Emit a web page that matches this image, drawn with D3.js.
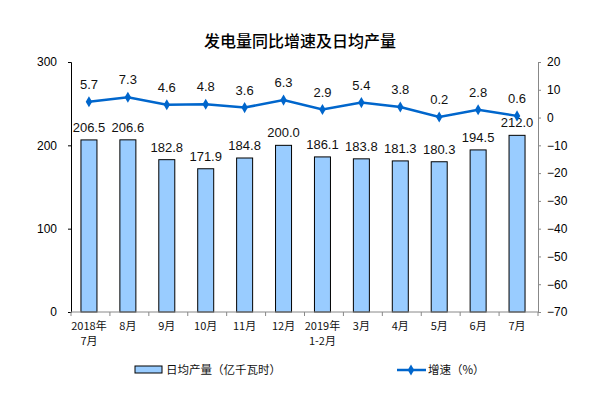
<!DOCTYPE html>
<html lang="zh">
<head>
<meta charset="UTF-8">
<title>发电量同比增速及日均产量</title>
<script src="https://d3js.org/d3.v7.min.js"></script>
<style>
  body { margin: 0; background: #fff; }
  svg text { font-family: "Liberation Sans", Arial, "Noto Sans CJK SC", sans-serif; }
  .cn { font-family: "Noto Sans CJK SC", sans-serif; }
</style>
</head>
<body>
<div id="chart"></div>
<script>
  // Data
  const months = [["2018年", "7月"], ["8月"], ["9月"], ["10月"], ["11月"], ["12月"],
                  ["2019年", "1-2月"], ["3月"], ["4月"], ["5月"], ["6月"], ["7月"]];
  const dailyOutput = [206.5, 206.6, 182.8, 171.9, 184.8, 200.0, 186.1, 183.8, 181.3, 180.3, 194.5, 212.0];
  const growth = [5.7, 7.3, 4.6, 4.8, 3.6, 6.3, 2.9, 5.4, 3.8, 0.2, 2.8, 0.6];
  const leftTicks = [0, 100, 200, 300];
  const rightTicks = [20, 10, 0, -10, -20, -30, -40, -50, -60, -70];

  const width = 590, height = 396;
  const margin = { top: 62, right: 52, bottom: 84, left: 71 };

  const svg = d3.select("#chart").append("svg")
    .attr("width", width).attr("height", height);

  const keys = months.map((d, i) => i);
  const x = d3.scaleBand().domain(keys)
    .range([margin.left, width - margin.right]);
  const yL = d3.scaleLinear().domain([0, 300]).range([height - margin.bottom, margin.top]);
  const yR = d3.scaleLinear().domain([-70, 20]).range([height - margin.bottom, margin.top]);
  const cx = i => x(i) + x.bandwidth() / 2 - 1.5;

  // Title
  svg.append("text").attr("class", "cn")
    .attr("x", 300).attr("y", 47)
    .attr("text-anchor", "middle")
    .style("font-size", "16px").style("font-weight", "500")
    .text("发电量同比增速及日均产量");

  // Bars
  const barW = 16;
  svg.selectAll(".bar").data(dailyOutput).enter().append("rect")
    .attr("x", (d, i) => cx(i) - barW / 2)
    .attr("y", d => yL(d))
    .attr("width", barW)
    .attr("height", d => yL(0) - yL(d))
    .attr("fill", "#99CCFF").attr("stroke", "#000").attr("stroke-width", 1);

  svg.selectAll(".blabel").data(dailyOutput).enter().append("text")
    .attr("x", (d, i) => cx(i))
    .attr("y", d => yL(d) - 8)
    .attr("text-anchor", "middle")
    .style("font-size", "13px").style("fill", "#111")
    .text(d => d.toFixed(1));

  // Left axis
  const gL = svg.append("g")
    .attr("transform", `translate(${margin.left},0)`)
    .call(d3.axisLeft(yL).tickValues(leftTicks).tickSize(3).tickPadding(11));
  gL.select(".domain").attr("stroke", "#000");
  gL.selectAll("text").style("font-size", "12px").style("font-family", "Liberation Sans, Arial");

  // Right axis
  const gR = svg.append("g")
    .attr("transform", `translate(${width - margin.right},0)`)
    .call(d3.axisRight(yR).tickValues(rightTicks).tickSize(3).tickPadding(6));
  gR.select(".domain").attr("stroke", "#888");
  gR.selectAll("line").attr("stroke", "#888");
  gR.selectAll("text").style("font-size", "12px").style("font-family", "Liberation Sans, Arial");

  // Bottom axis
  const base = yL(0);
  svg.append("line")
    .attr("x1", margin.left).attr("x2", width - margin.right)
    .attr("y1", base).attr("y2", base)
    .attr("stroke", "#888");
  svg.selectAll(".xtick").data(d3.range(months.length + 1)).enter().append("line")
    .attr("x1", d => margin.left + d * x.step())
    .attr("x2", d => margin.left + d * x.step())
    .attr("y1", base).attr("y2", base + 4)
    .attr("stroke", "#888");

  const xl = svg.selectAll(".xlabel").data(months).enter().append("text")
    .attr("class", "cn")
    .attr("text-anchor", "middle")
    .style("font-size", "11px").style("fill", "#111");
  xl.each(function (d, i) {
    const t = d3.select(this);
    d.forEach((s, j) => {
      t.append("tspan")
        .attr("x", cx(i))
        .attr("y", base + 18 + j * 15)
        .text(s);
    });
  });

  // Growth line
  const line = d3.line()
    .x((d, i) => cx(i))
    .y(d => yR(d));
  svg.append("path").datum(growth)
    .attr("d", line)
    .attr("fill", "none").attr("stroke", "#0066CC").attr("stroke-width", 2.5);

  const diamond = d3.symbol().type(d3.symbolDiamond).size(36);
  svg.selectAll(".pt").data(growth).enter().append("path")
    .attr("d", diamond)
    .attr("transform", (d, i) => `translate(${cx(i)},${yR(d)})`)
    .attr("fill", "#0066CC");

  svg.selectAll(".glabel").data(growth).enter().append("text")
    .attr("x", (d, i) => cx(i))
    .attr("y", d => yR(d) - 13)
    .attr("text-anchor", "middle")
    .style("font-size", "13px").style("fill", "#111")
    .text(d => d.toFixed(1));

  // Legend
  const lg = svg.append("g");
  lg.append("rect")
    .attr("x", 135).attr("y", 366).attr("width", 27).attr("height", 7)
    .attr("fill", "#99CCFF").attr("stroke", "#000");
  lg.append("text").attr("class", "cn")
    .attr("x", 166).attr("y", 374)
    .style("font-size", "11.5px").style("fill", "#111")
    .text("日均产量（亿千瓦时）");
  lg.append("line")
    .attr("x1", 397).attr("x2", 426).attr("y1", 370).attr("y2", 370)
    .attr("stroke", "#0066CC").attr("stroke-width", 2.5);
  lg.append("path").attr("d", diamond)
    .attr("transform", "translate(411,370)").attr("fill", "#0066CC");
  lg.append("text").attr("class", "cn")
    .attr("x", 428).attr("y", 374)
    .style("font-size", "11.5px").style("fill", "#111")
    .text("增速（%）");
</script>
</body>
</html>
